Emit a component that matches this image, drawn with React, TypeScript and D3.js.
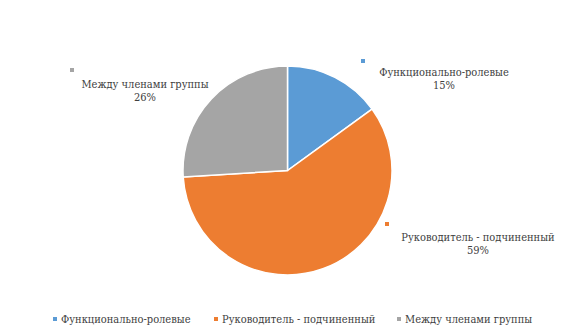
import React from "react";
import * as d3 from "d3";

const categories = ["Функционально-ролевые", "Руководитель - подчиненный", "Между членами группы"];
const values = [15, 59, 26];
const colors = ["#5B9BD5", "#ED7D31", "#A5A5A5"];

// label anchor points (text centre, first baseline) and marker positions
const labelPos = [
  { x: 444, y: 76, mx: 363, my: 61 },
  { x: 478, y: 241, mx: 387, my: 224 },
  { x: 145, y: 88, mx: 72, my: 70 },
];
const legendX = [55, 216, 399];

export default function App() {
  const width = 577;
  const height = 336;
  const cx = 287.5;
  const cy = 170.5;
  const radius = 104.5;
  const textStyle = { fontFamily: "'DejaVu Serif Condensed', 'DejaVu Serif', serif", fontSize: "11px" };
  const textColor = "#404040";

  const pie = d3
    .pie<number>()
    .sort(null)
    .value((d) => d);
  const arcs = pie(values);
  const arc = d3.arc<d3.PieArcDatum<number>>().innerRadius(0).outerRadius(radius);

  return (
    <svg width={width} height={height} style={{ position: "absolute", left: 0, top: 0 }}>
      <rect width={width} height={height} fill="#fff" />
      <g transform={`translate(${cx},${cy})`}>
        {arcs.map((a, i) => (
          <path key={i} d={arc(a) || ""} fill={colors[i]} stroke="#fff" strokeWidth={1.5} />
        ))}
      </g>
      {arcs.map((a, i) => (
        <g key={"l" + i}>
          <rect x={labelPos[i].mx - 2} y={labelPos[i].my - 2} width={4} height={4} fill={colors[i]} />
          <text x={labelPos[i].x} y={labelPos[i].y} textAnchor="middle" style={textStyle} fill={textColor}>
            {categories[i]}
          </text>
          <text x={labelPos[i].x} y={labelPos[i].y + 13} textAnchor="middle" style={textStyle} fill={textColor}>
            {Math.round(((a.endAngle - a.startAngle) / (2 * Math.PI)) * 100)}%
          </text>
        </g>
      ))}
      {categories.map((c, i) => (
        <g key={"lg" + i}>
          <rect x={legendX[i] - 2} y={317} width={4} height={4} fill={colors[i]} />
          <text x={legendX[i] + 6} y={323} style={textStyle} fill={textColor}>
            {c}
          </text>
        </g>
      ))}
    </svg>
  );
}
